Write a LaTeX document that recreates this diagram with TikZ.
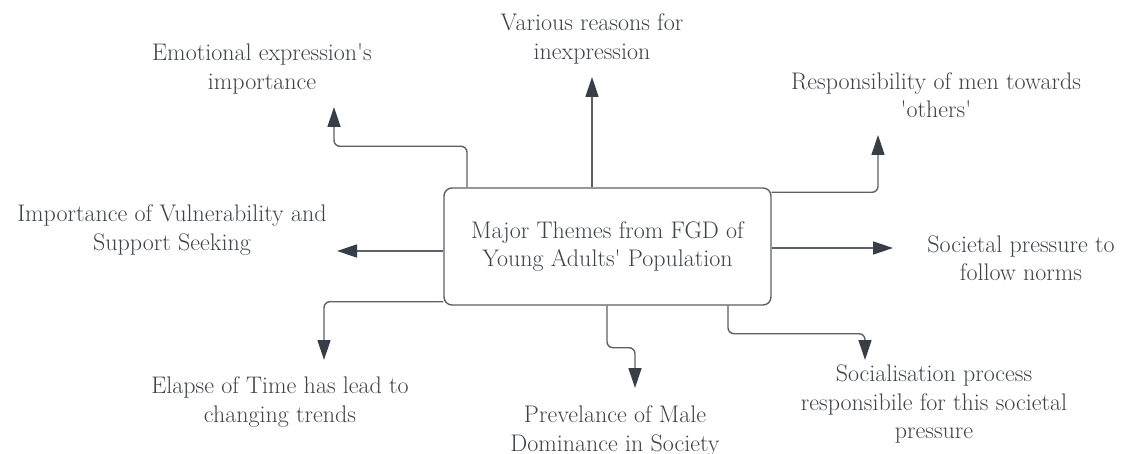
\documentclass[tikz,border=0pt]{standalone}
\usepackage{tikz}
\usetikzlibrary{positioning, arrows.meta, calc}

\definecolor{txtgray}{HTML}{3E434A}
\definecolor{linegray}{HTML}{5C6169}
\definecolor{tipgray}{HTML}{383E47}
\newcommand{\sq}{\textquotesingle}

\begin{document}
\begin{tikzpicture}[x=1pt, y=-1pt,
	every node/.style={font=\fontsize{24}{28.5}\selectfont, text=txtgray},
	themebox/.style={draw=linegray, line width=1.4pt, rounded corners=8pt, minimum width=327pt, minimum height=117pt, align=center, inner sep=0pt},
	lbl/.style={align=center, inner sep=0pt},
	conn/.style={draw=linegray, line width=1.4pt, rounded corners=6pt, -{Triangle[width=13pt, length=20pt, color=tipgray]}}]
			\useasboundingbox[fill=white] (0,0) rectangle (1121,454);
			
			% Central Theme
			\node[themebox] (theme) at (607.5,246.5) {Major Themes from FGD of\\Young Adults\sq{} Population};
			
			% Theme Labels
			\node[lbl] (emot) at (262,69) {Emotional expression\sq{}s\\importance};
			\node[lbl] (vari) at (592,39) {Various reasons for\\inexpression};
			\node[lbl] (resp) at (936,95) {Responsibility of men towards\\\sq{}others\sq};
			\node[lbl] (vuln) at (172,230) {Importance of Vulnerability and\\Support Seeking};
			\node[lbl] (soc) at (1021,258) {Societal pressure to\\follow norms};
			\node[lbl] (elap) at (280,402) {Elapse of Time has lead to\\changing trends};
			\node[lbl] (prev) at (615,431) {Prevelance of Male\\Dominance in Society};
			\node[lbl] (soci) at (934,404) {Socialisation process\\responsibile for this societal\\pressure};
			
			% Arrow Tips
			\coordinate (emotTip) at (334,107);
			\coordinate (variTip) at (592,77);
			\coordinate (respTip) at (878,135);
			\coordinate (vulnTip) at (337,251);
			\coordinate (socTip) at (893,248);
			\coordinate (elapTip) at (324,360);
			\coordinate (prevTip) at (635,388);
			\coordinate (sociTip) at (865,360);
			
			% Connectors
			\draw[conn] ([xshift=-140.5pt]theme.north) -- ++(0,-41) -| (emotTip);
			\draw[conn] (theme.north -| variTip) -- (variTip);
			\draw[conn] ([yshift=-5pt]theme.north east) -| (respTip);
			\draw[conn] (vulnTip -| theme.west) -- (vulnTip);
			\draw[conn] (socTip -| theme.east) -- (socTip);
			\draw[conn] ([yshift=4pt]theme.south west) -| (elapTip);
			\draw[conn] ([xshift=-0.5pt]theme.south) -- ++(0,42) -| (prevTip);
			\draw[conn] ([xshift=120.5pt]theme.south) -- ++(0,28) -| (sociTip);
		\end{tikzpicture}
\end{document}
